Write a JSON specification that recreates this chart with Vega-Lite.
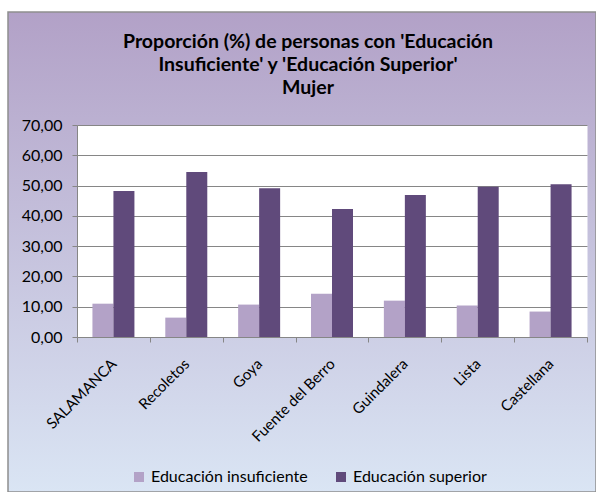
{
  "$schema": "https://vega.github.io/schema/vega-lite/v6.json",
  "width": 588,
  "height": 480,
  "autosize": {"type": "none"},
  "padding": {"left": 8, "top": 12, "right": 0, "bottom": 0},
  "background": "white",
  "title": {
    "text": ["Proporción (%) de personas con 'Educación", "Insuficiente' y 'Educación Superior'", "Mujer"],
    "font": "Lato",
    "fontSize": 19.5,
    "fontWeight": "bold",
    "color": "#000000",
    "lineHeight": 23,
    "anchor": "middle",
    "frame": "group",
    "offset": -86,
    "dx": 6
  },
  "data": {
    "values": [
      {"barrio": "SALAMANCA", "serie": "Educación insuficiente", "valor": 11.0},
      {"barrio": "SALAMANCA", "serie": "Educación superior", "valor": 48.2},
      {"barrio": "Recoletos", "serie": "Educación insuficiente", "valor": 6.4},
      {"barrio": "Recoletos", "serie": "Educación superior", "valor": 54.5},
      {"barrio": "Goya", "serie": "Educación insuficiente", "valor": 10.7},
      {"barrio": "Goya", "serie": "Educación superior", "valor": 49.1},
      {"barrio": "Fuente del Berro", "serie": "Educación insuficiente", "valor": 14.3},
      {"barrio": "Fuente del Berro", "serie": "Educación superior", "valor": 42.3},
      {"barrio": "Guindalera", "serie": "Educación insuficiente", "valor": 12.0},
      {"barrio": "Guindalera", "serie": "Educación superior", "valor": 46.9},
      {"barrio": "Lista", "serie": "Educación insuficiente", "valor": 10.4},
      {"barrio": "Lista", "serie": "Educación superior", "valor": 49.6},
      {"barrio": "Castellana", "serie": "Educación insuficiente", "valor": 8.4},
      {"barrio": "Castellana", "serie": "Educación superior", "valor": 50.4}
    ]
  },
  "layer": [
    {
      "mark": {"type": "bar", "opacity": 0},
      "encoding": {
        "x": {
          "field": "barrio",
          "type": "nominal",
          "sort": ["SALAMANCA", "Recoletos", "Goya", "Fuente del Berro", "Guindalera", "Lista", "Castellana"],
          "axis": {
            "orient": "top",
            "grid": true,
            "gridColor": "#ffffff",
            "gridWidth": 510,
            "gridOpacity": 1,
            "values": ["Fuente del Berro"],
            "labels": false,
            "ticks": false,
            "domain": false,
            "title": null
          }
        },
        "y": {"field": "valor", "type": "quantitative"}
      }
    },
    {
      "mark": {"type": "bar"},
      "encoding": {
        "x": {
          "field": "barrio",
          "type": "nominal",
          "sort": ["SALAMANCA", "Recoletos", "Goya", "Fuente del Berro", "Guindalera", "Lista", "Castellana"],
          "scale": {"range": [69, 579], "paddingInner": 0, "paddingOuter": 0},
          "axis": {
            "orient": "bottom",
            "offset": -155,
            "tickBand": "extent",
            "labelAngle": -45,
            "labelAlign": "right",
            "labelBaseline": "middle",
            "labelFont": "Lato",
            "labelFontSize": 15,
            "labelColor": "#000000",
            "labelPadding": 19,
            "tickColor": "#868686",
            "tickSize": 5,
            "domainColor": "#868686",
            "grid": false,
            "title": null
          }
        },
        "xOffset": {
          "field": "serie",
          "type": "nominal",
          "sort": ["Educación insuficiente", "Educación superior"],
          "scale": {"paddingInner": 0, "paddingOuter": 0.735}
        },
        "y": {
          "field": "valor",
          "type": "quantitative",
          "scale": {"domain": [0, 70], "range": [325, 113], "nice": false, "zero": true},
          "axis": {
            "orient": "left",
            "offset": -69,
            "values": [0, 10, 20, 30, 40, 50, 60, 70],
            "labelExpr": "replace(format(datum.value, '.2f'), '.', ',')",
            "grid": true,
            "gridColor": "#868686",
            "gridWidth": 1,
            "domainColor": "#868686",
            "tickColor": "#868686",
            "tickSize": 5,
            "labelFont": "Lato",
            "labelFontSize": 16,
            "labelColor": "#000000",
            "labelPadding": 10,
            "title": null
          }
        },
        "color": {
          "field": "serie",
          "type": "nominal",
          "scale": {"domain": ["Educación insuficiente", "Educación superior"], "range": ["#B3A2C7", "#604A7B"]},
          "legend": {
            "orient": "none",
            "legendX": 123,
            "legendY": 457,
            "direction": "horizontal",
            "title": null,
            "symbolType": "square",
            "symbolSize": 100,
            "symbolStrokeWidth": 0,
            "symbolOpacity": 1,
            "labelFont": "Lato",
            "labelFontSize": 16,
            "labelColor": "#000000",
            "labelOffset": 4,
            "columnPadding": 25
          }
        }
      }
    }
  ],
  "resolve": {"axis": {"x": "independent"}},
  "config": {
    "font": "Lato",
    "view": {
      "fill": {
        "gradient": "linear",
        "x1": 0, "y1": 0, "x2": 0, "y2": 1,
        "stops": [
          {"offset": 0, "color": "#B2A1C7"},
          {"offset": 1, "color": "#DAE5F4"}
        ]
      },
      "stroke": "#8E8E8E",
      "strokeWidth": 1.5
    }
  }
}
